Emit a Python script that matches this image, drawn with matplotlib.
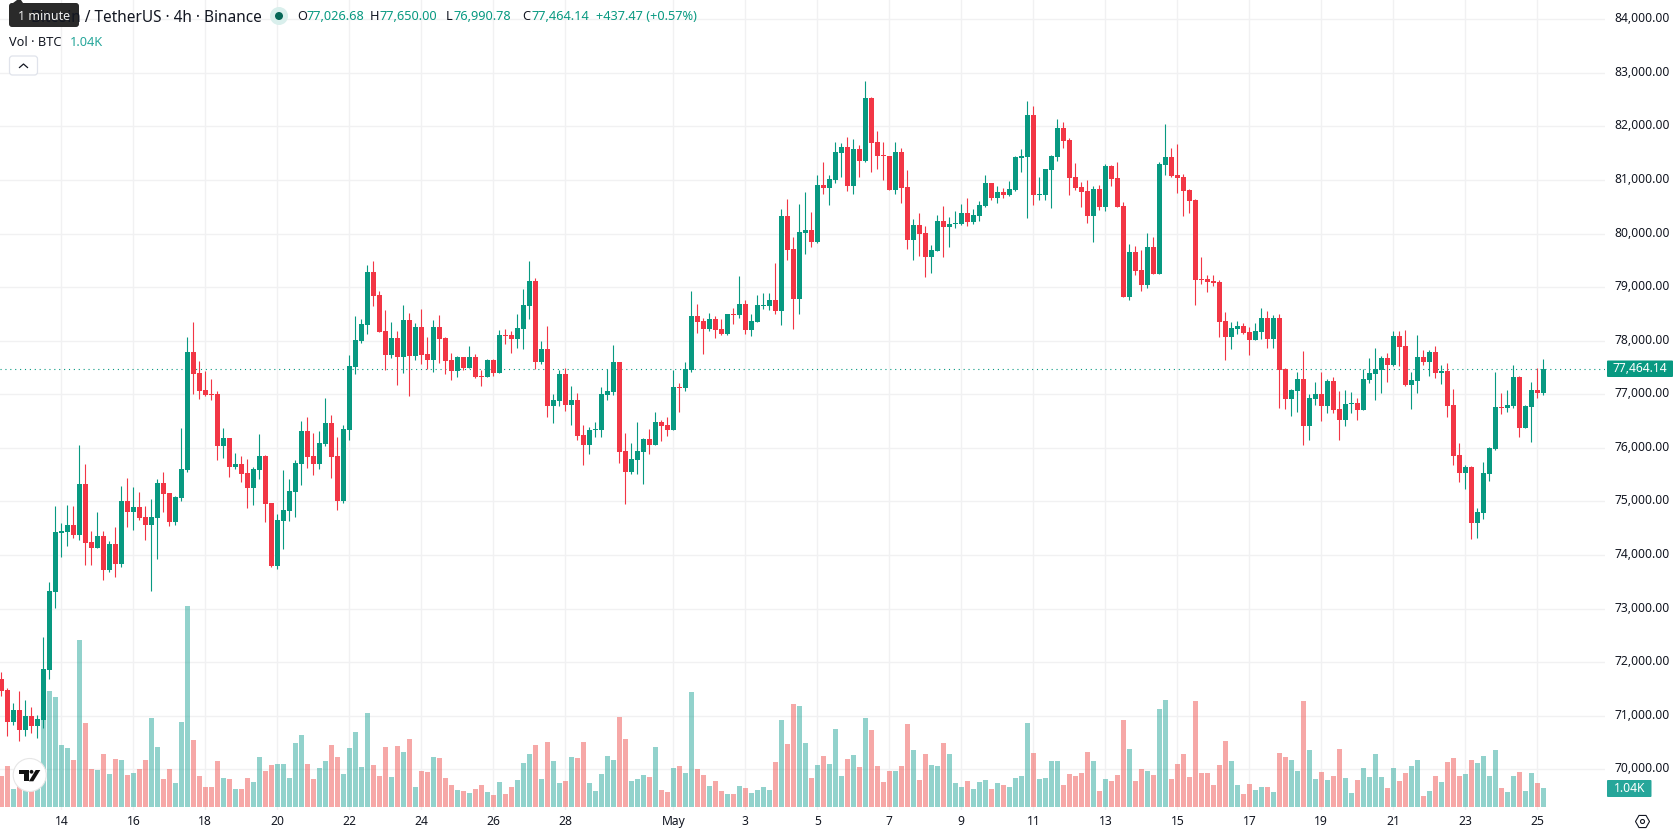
import numpy as np
import matplotlib
matplotlib.use('Agg')
import matplotlib.pyplot as plt
from matplotlib.patches import Circle, FancyBboxPatch, Polygon, RegularPolygon
from matplotlib.transforms import ScaledTranslation

plt.rcParams['font.family'] = ['Noto Sans', 'DejaVu Sans']

# BTC/USDT 4h candles
opens = [
    71688, 71482, 70885, 71109, 70736, 70997, 70811, 70923, 71856, 73311,
    74412, 74431, 74561, 74374, 75326, 74243, 74132, 74355, 73721, 74206,
    73833, 75008, 74803, 74897, 74710, 74561, 74691, 75344, 75158, 74617,
    75065, 75587, 77789, 77397, 77080, 77005, 77005, 76035, 76184, 75643,
    75699, 75531, 75251, 75587, 75848, 74971, 73796, 74635, 74822, 75177,
    75699, 76315, 75848, 75699, 76072, 76464, 75848, 75008, 76333, 77509,
    77994, 78293, 79282, 78853, 78181, 77733, 78050, 77696, 78386, 77714,
    78256, 77752, 77640, 78256, 78050, 77640, 77435, 77696, 77491, 77696,
    77341, 77323, 77640, 77397, 78106, 78106, 78032, 78218, 78647, 79114,
    77603, 77845, 76781, 76875, 77379, 76800, 76893, 76240, 76054, 76334,
    76334, 76987, 77043, 77603, 75942, 75550, 75774, 75923, 76166, 76054,
    76483, 76427, 76334, 77136, 77117, 77453, 78461, 78367, 78218, 78405,
    78218, 78125, 78498, 78480, 78685, 78200, 78349, 78647, 78647, 78759,
    78554, 80327, 79711, 78778, 80009, 80065, 79841, 80905, 80849, 80998,
    81502, 81614, 80886, 81577, 81353, 82529, 81707, 81465, 81446, 80812,
    81521, 80868, 79879, 80159, 80009, 79562, 79673, 80233, 80121, 80177,
    80177, 80383, 80215, 80327, 80513, 80942, 80663, 80775, 80719, 80812,
    81409, 81428, 82211, 80718, 80718, 81185, 81428, 81969, 81745, 81054,
    80868, 80793, 80327, 80830, 80495, 81260, 81036, 80513, 78815, 79655,
    79319, 79039, 79748, 79244, 81278, 81428, 81092, 81054, 80812, 80625,
    79151, 79151, 79114, 79096, 78368, 78069, 78219, 78275, 78163, 78013,
    78163, 78424, 78032, 78424, 77472, 76913, 77062, 77286, 76409, 76913,
    77006, 76782, 77248, 76726, 76521, 76819, 76838, 76707, 77267, 77379,
    77454, 77678, 77547, 78088, 77901, 77174, 77248, 77696, 77603, 77789,
    77398, 77435, 76801, 75867, 75532, 75644, 74599, 74785, 75513, 75980,
    76763, 76745, 76782, 77323, 76371, 76763, 77080, 77026.68,
]
highs = [
    71818, 71520, 71240, 71464, 71296, 71165, 71016, 72471, 73498, 74916,
    74599, 74935, 74915, 76054, 75699, 74449, 74803, 74449, 74262, 74523,
    75288, 75438, 75270, 75176, 74915, 75046, 75419, 75550, 75158, 75102,
    76371, 78069, 78349, 77621, 77434, 77285, 77061, 76371, 76184, 75904,
    75848, 75792, 75643, 76259, 75867, 74971, 74766, 75587, 75419, 75774,
    76501, 76576, 76277, 76315, 76930, 76613, 76203, 76427, 77733, 78461,
    78405, 79412, 79487, 78927, 78573, 78349, 78181, 78666, 78517, 78330,
    78591, 78069, 78386, 78480, 78069, 77770, 77714, 77696, 77901, 77752,
    77453, 77659, 77659, 78200, 78218, 78181, 78498, 78965, 79487, 79170,
    77994, 78274, 77005, 77453, 77491, 77155, 77024, 76427, 76390, 76483,
    77136, 77472, 77920, 77603, 76278, 76091, 76483, 76184, 76352, 76670,
    76520, 76576, 77453, 77211, 77603, 78927, 78685, 78423, 78517, 78461,
    78405, 78498, 78610, 79207, 78759, 78498, 78853, 78890, 78890, 79450,
    80457, 80644, 79935, 80551, 80775, 80401, 81092, 81334, 81092, 81707,
    81689, 81801, 81763, 81651, 82846, 82547, 81913, 81707, 81446, 81707,
    81596, 81185, 80271, 80383, 80140, 79785, 80345, 80513, 80308, 80420,
    80551, 80662, 80457, 80607, 81092, 80942, 80886, 80849, 80980, 81446,
    81577, 82473, 82379, 81054, 81204, 81465, 82137, 82081, 81782, 81316,
    80961, 81000, 80886, 80905, 81297, 81278, 81334, 80588, 79804, 79767,
    79692, 80009, 79935, 81334, 82043, 81595, 81670, 81110, 80830, 80644,
    79562, 79226, 79226, 79132, 78536, 78349, 78368, 78331, 78256, 78331,
    78611, 78555, 78480, 78499, 77491, 77099, 77416, 77808, 77006, 77230,
    77416, 77286, 77323, 77062, 77080, 77043, 76931, 77472, 77678, 77864,
    77715, 77771, 78181, 78181, 78200, 77416, 78107, 77827, 77827, 77901,
    77547, 77584, 77099, 76091, 75681, 75662, 74879, 75737, 76017, 77416,
    77025, 77080, 77547, 77342, 76801, 77230, 77491, 77650,
]
lows = [
    71370, 70624, 70829, 70531, 70624, 70680, 70587, 70773, 71688, 73013,
    73964, 74169, 74318, 74281, 73814, 73814, 74132, 73534, 73684, 73590,
    73777, 74523, 74467, 74654, 74281, 73329, 73926, 74803, 74542, 74561,
    75008, 75550, 77005, 76912, 76968, 76893, 75774, 75811, 75456, 75606,
    75363, 74878, 74934, 75419, 74617, 73777, 73740, 74113, 74635, 74710,
    75307, 75624, 75494, 75606, 76035, 75438, 74841, 74971, 76147, 77378,
    77957, 78125, 78647, 78162, 77453, 77677, 77173, 77397, 76968, 77640,
    77565, 77472, 77416, 77584, 77379, 77267, 77323, 77453, 77491, 77304,
    77155, 77323, 77341, 77397, 77938, 77770, 77864, 77845, 78405, 77472,
    77565, 76576, 76464, 76781, 76688, 76427, 76147, 75681, 75886, 76203,
    76203, 76893, 76987, 75718, 74953, 75513, 75513, 75326, 75886, 76054,
    76128, 76222, 76334, 76670, 77061, 77416, 78144, 77752, 78181, 78050,
    78106, 78106, 78312, 78423, 78125, 78088, 78349, 78591, 78573, 78498,
    78293, 79506, 78218, 78498, 79618, 79748, 79823, 80737, 80532, 80942,
    81054, 80793, 80737, 81054, 81334, 81148, 81204, 81000, 80812, 80737,
    80569, 79711, 79506, 79580, 79188, 79263, 79673, 79562, 79748, 80103,
    80159, 80140, 80177, 80233, 80495, 80625, 80569, 80663, 80700, 80793,
    81148, 80289, 80532, 80625, 80625, 80476, 81353, 81596, 80718, 80812,
    80495, 80196, 79841, 80439, 80420, 80886, 80495, 78815, 78759, 79226,
    78927, 78983, 79244, 79244, 81092, 81054, 80756, 80327, 80383, 78667,
    79058, 78909, 79020, 78070, 77640, 77845, 78125, 78125, 77734, 78013,
    78032, 77864, 77864, 76745, 76726, 76595, 76670, 76054, 76147, 76801,
    76502, 76651, 76651, 76147, 76409, 76651, 76521, 76707, 77211, 76894,
    77025, 77230, 77528, 77528, 77155, 76726, 77025, 77547, 77342, 77304,
    77192, 76577, 75681, 75364, 75233, 74300, 74319, 74673, 75382, 75961,
    76633, 76670, 76745, 76203, 76371, 76110, 76931, 76990.78,
]
closes = [
    71464, 70885, 71109, 70736, 70997, 70811, 70941, 71874, 73330, 74431,
    74449, 74561, 74374, 75326, 74225, 74132, 74355, 73721, 74206, 73833,
    75008, 74803, 74897, 74691, 74561, 74710, 75344, 75139, 74617, 75083,
    75606, 77789, 77378, 77061, 76986, 76986, 76035, 76184, 75643, 75699,
    75512, 75251, 75606, 75848, 74953, 73796, 74654, 74841, 75195, 75718,
    76315, 75830, 75699, 76091, 76464, 75830, 75008, 76352, 77528, 78013,
    78312, 79282, 78834, 78162, 77733, 78050, 77696, 78386, 77714, 78256,
    77733, 77640, 78256, 78032, 77621, 77435, 77696, 77491, 77696, 77323,
    77323, 77640, 77397, 78106, 78088, 78032, 78237, 78666, 79114, 77603,
    77845, 76781, 76893, 77379, 76800, 76893, 76222, 76054, 76334, 76352,
    77005, 77061, 77603, 75923, 75550, 75792, 75942, 76166, 76054, 76483,
    76408, 76334, 77136, 77117, 77472, 78461, 78349, 78218, 78405, 78200,
    78125, 78498, 78480, 78685, 78200, 78367, 78666, 78666, 78759, 78554,
    80327, 79692, 78778, 80028, 80065, 79841, 80905, 80849, 81017, 81521,
    81614, 80886, 81577, 81353, 82529, 81689, 81446, 81446, 80812, 81521,
    80849, 79879, 80159, 79991, 79562, 79692, 80233, 80121, 80177, 80196,
    80383, 80215, 80345, 80532, 80942, 80663, 80775, 80719, 80830, 81428,
    81446, 82211, 80718, 80737, 81204, 81446, 81969, 81726, 81036, 80849,
    80775, 80327, 80830, 80495, 81260, 81017, 80495, 78815, 79655, 79300,
    79039, 79748, 79244, 81297, 81428, 81073, 81036, 80793, 80607, 79132,
    79132, 79095, 79077, 78349, 78069, 78237, 78275, 78144, 78013, 78181,
    78424, 78032, 78424, 77454, 76913, 77080, 77286, 76409, 76931, 77006,
    76782, 77248, 76707, 76521, 76819, 76838, 76707, 77286, 77398, 77472,
    77678, 77547, 78088, 77883, 77174, 77267, 77696, 77603, 77789, 77398,
    77435, 76782, 75849, 75532, 75644, 74599, 74804, 75532, 75998, 76763,
    76745, 76801, 77323, 76371, 76782, 77080, 77025, 77464.14,
]
# volume per candle, thousands of BTC
volumes = [
    1.70, 2.24, 0.99, 1.37, 0.93, 0.93, 1.10, 4.95, 6.35, 6.02,
    3.39, 3.23, 2.57, 9.14, 4.60, 2.08, 2.03, 2.90, 1.81, 2.63,
    2.57, 1.75, 1.86, 2.08, 2.57, 4.87, 3.29, 1.53, 2.08, 1.31,
    4.65, 11.00, 3.67, 1.70, 1.10, 1.10, 2.52, 1.59, 1.53, 0.99,
    0.99, 1.59, 1.37, 2.74, 1.97, 2.30, 2.35, 2.35, 1.59, 3.50,
    3.94, 2.35, 1.53, 2.14, 2.52, 3.39, 2.74, 1.81, 3.23, 4.11,
    2.19, 5.15, 2.30, 1.70, 3.29, 1.64, 3.34, 3.01, 3.72, 1.10,
    1.97, 1.92, 2.74, 2.68, 1.59, 1.20, 0.93, 0.88, 0.77, 0.99,
    1.20, 0.82, 0.66, 1.37, 0.71, 1.10, 1.48, 2.41, 2.90, 3.39,
    1.53, 3.56, 2.52, 1.31, 1.42, 2.74, 2.68, 3.56, 1.31, 0.88,
    1.81, 2.79, 2.57, 4.93, 3.72, 1.42, 1.53, 1.75, 1.64, 3.29,
    0.93, 0.82, 2.14, 2.24, 1.86, 6.30, 2.08, 1.75, 1.15, 1.42,
    0.88, 0.71, 0.71, 1.15, 1.04, 0.77, 0.93, 1.10, 0.93, 2.46,
    4.76, 3.45, 5.64, 5.53, 3.50, 1.59, 2.30, 2.79, 2.35, 4.27,
    1.70, 2.63, 2.85, 2.19, 4.87, 4.22, 2.24, 1.37, 1.97, 1.97,
    2.24, 4.54, 3.12, 1.48, 2.90, 2.30, 2.24, 3.50, 2.90, 1.31,
    1.10, 1.42, 0.99, 1.37, 1.48, 0.99, 1.31, 1.20, 1.10, 1.59,
    1.70, 4.60, 2.96, 1.53, 1.59, 2.52, 2.52, 1.20, 1.81, 1.70,
    1.86, 3.01, 2.52, 0.88, 1.53, 1.42, 1.75, 4.76, 3.18, 1.42,
    2.08, 1.97, 1.75, 5.37, 5.86, 1.53, 2.35, 2.90, 1.64, 5.80,
    1.86, 1.86, 1.20, 2.30, 3.61, 2.52, 1.20, 0.71, 1.26, 0.93,
    1.10, 1.10, 0.82, 2.96, 2.74, 2.57, 1.97, 5.80, 3.12, 1.53,
    1.92, 1.48, 1.70, 3.18, 1.59, 0.77, 1.48, 2.14, 1.64, 2.90,
    1.64, 1.04, 2.14, 1.42, 1.86, 2.24, 2.57, 0.60, 0.88, 1.70,
    1.37, 2.46, 2.68, 1.70, 1.81, 2.57, 2.41, 2.79, 1.70, 3.12,
    1.04, 0.82, 1.70, 1.92, 0.88, 1.86, 1.31, 1.04,
]

date_labels = ['14', '16', '18', '20', '22', '24', '26', '28', 'May', '3', '5',
               '7', '9', '11', '13', '15', '17', '19', '21', '23', '25']
date_candles = [10, 22, 34, 46, 58, 70, 82, 94, 112, 124, 136,
                148, 160, 172, 184, 196, 208, 220, 232, 244, 256]
price_ticks = list(range(70000, 85000, 1000))

last_price = closes[-1]
last_volume = volumes[-1]

UP = '#089981'
DOWN = '#f23645'
VOL_UP = '#26a69a'
VOL_DOWN = '#ef5350'
GRID = '#f1f1f2'
INK = '#131722'

assert len(opens) == len(highs) == len(lows) == len(closes) == len(volumes)

W, H = 1678, 835
fig = plt.figure(figsize=(W / 100, H / 100), dpi=100, facecolor='white')
rect = [0, 1 - 810 / H, 1605 / W, 810 / H]

# three stacked layers: grid and axis labels, volume, candles
ax = fig.add_axes(rect)
ax_vol = ax.twinx()
ax_price = ax.twinx()

xlim = (-0.222, 267.28)
ylim = (69243, 84358)
for a in (ax, ax_vol, ax_price):
    a.set_xlim(xlim)
    for side in a.spines:
        a.spines[side].set_visible(False)
ax.set_ylim(ylim)
ax_price.set_ylim(ylim)
ax_vol.set_ylim(-0.164, 44.17)
ax_vol.set_yticks([])
ax_price.set_yticks([])

ax.yaxis.tick_right()
ax.set_yticks(price_ticks)
ax.set_yticklabels([f'{p:,.2f}' for p in price_ticks])
ax.set_xticks(date_candles)
ax.set_xticklabels(date_labels)
ax.tick_params(axis='y', length=0, pad=6.6, labelsize=8.7, labelcolor=INK)
ax.tick_params(axis='x', length=0, pad=3.5, labelsize=8.7, labelcolor=INK)
ax.get_xticklabels()[date_labels.index('May')].set_fontweight('bold')
# price labels sit a little above their grid lines
nudge = ScaledTranslation(0, 2 / 100, fig.dpi_scale_trans)
for label in ax.get_yticklabels():
    label.set_transform(label.get_transform() + nudge)
ax.grid(True, color=GRID, linewidth=1.0)
ax.set_axisbelow(True)

idx = np.arange(len(opens))
o = np.array(opens)
c = np.array(closes)
up = c >= o

ax_vol.bar(idx, volumes, width=0.83, linewidth=0, alpha=0.5,
           color=[VOL_UP if u else VOL_DOWN for u in up])

colors = [UP if u else DOWN for u in up]
ax_price.vlines(idx, lows, highs, colors=colors, linewidth=0.8)
ax_price.bar(idx, np.abs(c - o), bottom=np.minimum(o, c), width=0.83,
             linewidth=0, color=colors, zorder=3)
ax_price.axhline(last_price, color=UP, linewidth=0.8, linestyle=(0, (1, 3.4)), zorder=1)

# overlay in pixel units for the legend, tags and buttons
ui = fig.add_axes([0, 0, 1, 1], zorder=10)
ui.set_xlim(0, W)
ui.set_ylim(H, 0)
ui.axis('off')
ui.patch.set_alpha(0)

ui.text(261.5, 17.5, 'Bitcoin / TetherUS · 4h · Binance', ha='right', va='center',
        fontsize=11.1, color=INK)
ui.add_patch(Circle((279, 16), 9, color='#d9efec', lw=0))
ui.add_patch(Circle((279, 16), 4, color='#056656', lw=0))

legend_items = [
    (297, 'O', INK), (306.5, f'{opens[-1]:,.2f}', UP),
    (370, 'H', INK), (380, f'{highs[-1]:,.2f}', UP),
    (446, 'L', INK), (454, f'{lows[-1]:,.2f}', UP),
    (522, 'C', INK), (532, f'{closes[-1]:,.2f}', UP),
    (596, '+437.47 (+0.57%)', UP),
]
for xpos, txt, col in legend_items:
    ui.text(xpos, 16, txt, ha='left', va='center', fontsize=9.2, color=col)

ui.text(9, 42, 'Vol · BTC', ha='left', va='center', fontsize=9.2, color=INK)
ui.text(70, 42, f'{last_volume:.2f}K', ha='left', va='center', fontsize=9.2, color=VOL_UP)

# collapse button
ui.add_patch(FancyBboxPatch((9.5, 56), 28, 19, boxstyle='round,pad=0,rounding_size=3',
                            facecolor='white', edgecolor='#e0e3eb', linewidth=0.9))
ui.plot([19.5, 23.5, 27.5], [67.5, 64, 67.5], color=INK, linewidth=0.9)

# interval tooltip
ui.add_patch(Polygon([[13, 3], [17, 0], [21, 0], [23, 3]], color='#2a2a2a', lw=0))
ui.add_patch(FancyBboxPatch((9, 3), 70, 24, boxstyle='round,pad=0,rounding_size=3',
                            facecolor='#2a2a2a', edgecolor='none'))
ui.text(44, 16.5, '1 minute', ha='center', va='center', fontsize=9.0, color='#f0f0f0')

# last price and last volume tags
ui.add_patch(FancyBboxPatch((1607, 360.5), 66, 16.5, boxstyle='round,pad=0,rounding_size=1',
                            facecolor=UP, edgecolor='none'))
ui.text(1640, 368.5, f'{last_price:,.2f}', ha='center', va='center', fontsize=8.7, color='white')
ui.add_patch(FancyBboxPatch((1607, 780), 44.5, 17, boxstyle='round,pad=0,rounding_size=1',
                            facecolor=VOL_UP, edgecolor='none'))
ui.text(1629.5, 788.5, f'{last_volume:.2f}K', ha='center', va='center', fontsize=8.7, color='white')

# settings hexagon
ui.add_patch(RegularPolygon((1642.5, 821.5), 6, radius=7, orientation=np.pi / 2,
                            facecolor='none', edgecolor=INK, linewidth=0.8))
ui.add_patch(Circle((1642.5, 821.5), 2, facecolor='none', edgecolor=INK, linewidth=0.8))

# round badge, bottom left
ui.add_patch(Circle((29.7, 775), 16.5, facecolor='white', edgecolor='#e6e6e6', linewidth=0.8))
ui.add_patch(Polygon([[19, 770], [28.7, 770], [28.7, 781.3], [23.7, 781.3], [23.7, 773.7], [19, 773.7]],
                     color='#111111', lw=0))
ui.add_patch(Circle((31.5, 771.8), 1.9, color='#111111', lw=0))
ui.add_patch(Polygon([[35.7, 770], [40.3, 770], [33.3, 781.3], [28.9, 781.3]], color='#111111', lw=0))

fig.savefig('out.png', dpi=100, facecolor='white')
